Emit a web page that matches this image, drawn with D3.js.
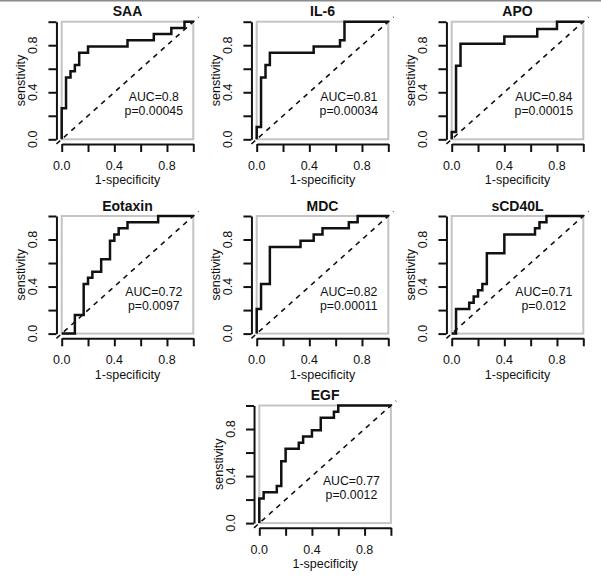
<!DOCTYPE html>
<html><head><meta charset="utf-8">
<script src="https://cdn.jsdelivr.net/npm/d3@7"></script>
<style>
body{margin:0;background:#fff}
svg{display:block}
text{font-family:"Liberation Sans",Arial,Helvetica,sans-serif;fill:#111}
</style>
</head><body>
<svg id="chart" width="601" height="580"></svg>
<script>
// ---- data ----
const markers   = ["SAA","IL-6","APO","Eotaxin","MDC","sCD40L","EGF"];
const aucLabels = ["AUC=0.8","AUC=0.81","AUC=0.84","AUC=0.72","AUC=0.82","AUC=0.71","AUC=0.77"];
const pLabels   = ["p=0.00045","p=0.00034","p=0.00015","p=0.0097","p=0.00011","p=0.012","p=0.0012"];

// ROC points (1-specificity, sensitivity); curve steps up first, then right
const saaFpr = [0,0.033,0.067,0.1,0.133,0.2,0.5,0.7,0.833,0.933,1];
const saaTpr = [0,0.263,0.526,0.579,0.632,0.737,0.789,0.842,0.895,0.947,1];
const il6Fpr = [0,0.033,0.067,0.1,0.433,0.633,0.667,1];
const il6Tpr = [0,0.105,0.526,0.632,0.737,0.789,0.842,1];
const apoFpr = [0,0.033,0.067,0.4,0.65,0.8,1];
const apoTpr = [0,0.0625,0.625,0.8125,0.875,0.9375,1];
const eotFpr = [0,0.1,0.167,0.2,0.233,0.3,0.367,0.4,0.433,0.5,0.733,1];
const eotTpr = [0,0,0.158,0.421,0.474,0.526,0.632,0.789,0.842,0.895,0.947,1];
const mdcFpr = [0,0.033,0.1,0.333,0.433,0.5,0.7,0.767,1];
const mdcTpr = [0,0.21,0.421,0.737,0.789,0.842,0.895,0.947,1];
const cd40Fpr = [0,0.033,0.133,0.167,0.2,0.233,0.267,0.4,0.633,0.667,0.72,1];
const cd40Tpr = [0,0,0.21,0.263,0.316,0.368,0.421,0.684,0.842,0.895,0.947,1];
const egfFpr = [0,0.033,0.133,0.167,0.2,0.3,0.333,0.4,0.467,0.567,0.6,1];
const egfTpr = [0,0.21,0.263,0.316,0.526,0.632,0.684,0.737,0.789,0.895,0.947,1];

const fprSeries = [saaFpr, il6Fpr, apoFpr, eotFpr, mdcFpr, cd40Fpr, egfFpr];
const tprSeries = [saaTpr, il6Tpr, apoTpr, eotTpr, mdcTpr, cd40Tpr, egfTpr];

const tickValues = [0,0.2,0.4,0.6,0.8,1];
const tickLabels = ["0.0","","0.4","","0.8",""];
const xTitle = "1-specificity";
const yTitle = "senstivity";

// ---- layout ----
const panelPos = [[61.7,21.7],[256.7,21.7],[451.7,21.7],[61.7,216],[256.7,216],[451.7,216],[259.3,405.5]];
const W = 131.6, H = 117.6;
const svg = d3.select("#chart");

svg.append("line").attr("x1",0).attr("x2",601).attr("y1",0.75).attr("y2",0.75)
   .attr("stroke","#8a8a8a").attr("stroke-width",1.5);

const x = d3.scaleLinear().domain([0,1]).range([0,W]);
const y = d3.scaleLinear().domain([0,1]).range([H,0]);
const lo = -0.04, hi = 1.04;

markers.forEach((m,i)=>{
  const g = svg.append("g").attr("transform",`translate(${panelPos[i][0]},${panelPos[i][1]})`);

  // grey frame of unit square
  g.append("rect").attr("x",x(0)).attr("y",y(1)).attr("width",x(1)-x(0)).attr("height",y(0)-y(1))
   .attr("fill","none").attr("stroke","#c4c4c4").attr("stroke-width",2);

  // diagonal reference
  g.append("line").attr("x1",x(lo)).attr("y1",y(lo)).attr("x2",x(hi)).attr("y2",y(hi))
   .attr("stroke","#111").attr("stroke-width",1.6).attr("stroke-dasharray","5,5");

  // ROC curve
  const pts = fprSeries[i].map((f,k)=>[f,tprSeries[i][k]]);
  g.append("path").datum(pts)
   .attr("d", d3.line().x(d=>x(d[0])).y(d=>y(d[1])).curve(d3.curveStepBefore))
   .attr("fill","none").attr("stroke","#111").attr("stroke-width",2.5)
   .attr("stroke-linejoin","miter");

  // axes
  const ya = g.append("g").attr("transform",`translate(${x(lo)},0)`)
    .call(d3.axisLeft(y).tickValues(tickValues).tickSize(8).tickSizeOuter(0).tickFormat(""));
  const xa = g.append("g").attr("transform",`translate(0,${y(lo)})`)
    .call(d3.axisBottom(x).tickValues(tickValues).tickSize(8).tickSizeOuter(0).tickFormat(""));
  [ya,xa].forEach(a=>{
    a.selectAll("path,line").attr("stroke","#111").attr("stroke-width",2);
  });

  // tick labels
  tickValues.forEach((v,k)=>{
    if(!tickLabels[k]) return;
    g.append("text").attr("x",x(v)).attr("y",y(0)+30.7).attr("text-anchor","middle")
     .attr("font-size",12.5).text(tickLabels[k]);
    g.append("text").attr("transform",`translate(${x(0)-24.4},${y(v)}) rotate(-90)`)
     .attr("text-anchor","middle").attr("font-size",12.5).text(tickLabels[k]);
  });

  // axis titles
  g.append("text").attr("x",x(0.5)).attr("y",y(0)+45).attr("text-anchor","middle")
   .attr("font-size",12.5).text(xTitle);
  g.append("text").attr("transform",`translate(${x(0)-36.7},${y(0.5)}) rotate(-90)`)
   .attr("text-anchor","middle").attr("font-size",12.5).text(yTitle);

  // title
  g.append("text").attr("x",x(0.5)).attr("y",y(1)-5.3).attr("text-anchor","middle")
   .attr("font-size",14).attr("font-weight","bold").text(m);

  // annotation
  g.append("text").attr("x",x(0.7)).attr("y",y(0.36)).attr("dy","0.36em").attr("text-anchor","middle")
   .attr("font-size",12.3).text(aucLabels[i]);
  g.append("text").attr("x",x(0.7)).attr("y",y(0.24)).attr("dy","0.36em").attr("text-anchor","middle")
   .attr("font-size",12.3).text(pLabels[i]);
});
</script>
</body></html>
